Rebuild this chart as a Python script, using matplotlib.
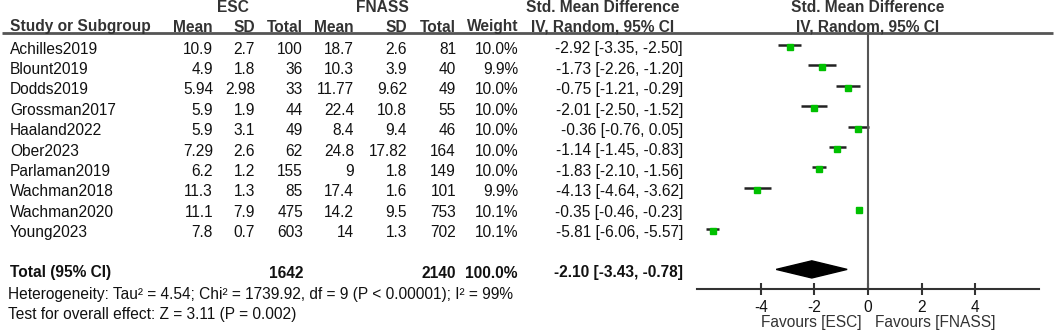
import numpy as np
import matplotlib.pyplot as plt

# study data
studies = ["Achilles2019", "Blount2019", "Dodds2019", "Grossman2017", "Haaland2022",
           "Ober2023", "Parlaman2019", "Wachman2018", "Wachman2020", "Young2023"]
esc_mean = ["10.9", "4.9", "5.94", "5.9", "5.9", "7.29", "6.2", "11.3", "11.1", "7.8"]
esc_sd = ["2.7", "1.8", "2.98", "1.9", "3.1", "2.6", "1.2", "1.3", "7.9", "0.7"]
esc_n = [100, 36, 33, 44, 49, 62, 155, 85, 475, 603]
fn_mean = ["18.7", "10.3", "11.77", "22.4", "8.4", "24.8", "9", "17.4", "14.2", "14"]
fn_sd = ["2.6", "3.9", "9.62", "10.8", "9.4", "17.82", "1.8", "1.6", "9.5", "1.3"]
fn_n = [81, 40, 49, 55, 46, 164, 149, 101, 753, 702]
weight = ["10.0%", "9.9%", "10.0%", "10.0%", "10.0%", "10.0%", "10.0%", "9.9%", "10.1%", "10.1%"]
smd = np.array([-2.92, -1.73, -0.75, -2.01, -0.36, -1.14, -1.83, -4.13, -0.35, -5.81])
ci_lo = np.array([-3.35, -2.26, -1.21, -2.50, -0.76, -1.45, -2.10, -4.64, -0.46, -6.06])
ci_hi = np.array([-2.50, -1.20, -0.29, -1.52, 0.05, -0.83, -1.56, -3.62, -0.23, -5.57])

total_smd, total_lo, total_hi = -2.10, -3.43, -0.78
total_esc, total_fn = 1642, 2140
heterogeneity = "Heterogeneity: Tau² = 4.54; Chi² = 1739.92, df = 9 (P < 0.00001); I² = 99%"
overall = "Test for overall effect: Z = 3.11 (P = 0.002)"
ticks = [-4, -2, 0, 2, 4]

plt.rcParams['font.family'] = ['Liberation Sans', 'DejaVu Sans']
W, H = 1056, 336
fig = plt.figure(figsize=(W / 100, H / 100), dpi=100)

# table axes in pixel coordinates
tab = fig.add_axes([0, 0, 1, 1])
tab.set_xlim(0, W)
tab.set_ylim(H, 0)
tab.axis('off')

fs = 11.2
txt = '#111111'
hdr = '#333333'

# header
tab.text(233, 8, "ESC", ha='center', va='center', fontsize=fs, fontweight='bold', color=hdr)
tab.text(382, 8, "FNASS", ha='center', va='center', fontsize=fs, fontweight='bold', color=hdr)
tab.text(603, 8, "Std. Mean Difference", ha='center', va='center', fontsize=fs, fontweight='bold', color=hdr)
tab.text(868, 8, "Std. Mean Difference", ha='center', va='center', fontsize=fs, fontweight='bold', color=hdr)
tab.text(868, 27, "IV, Random, 95% CI", ha='center', va='center', fontsize=fs, fontweight='bold', color=hdr)
tab.text(603, 27, "IV, Random, 95% CI", ha='center', va='center', fontsize=fs, fontweight='bold', color=hdr)
tab.text(10, 27, "Study or Subgroup", ha='left', va='center', fontsize=fs, fontweight='bold', color=hdr)
col_x = [213, 255, 303, 354, 407, 456, 518]
col_names = ["Mean", "SD", "Total", "Mean", "SD", "Total", "Weight"]
for x, name in zip(col_x, col_names):
    tab.text(x, 27, name, ha='right', va='center', fontsize=fs, fontweight='bold', color=hdr)
tab.plot([2, 1053], [33, 33], color='#555555', lw=2, solid_capstyle='butt')

# rows
for i, s in enumerate(studies):
    y = 49 + 20.4 * i
    ci_txt = f"{smd[i]:.2f} [{ci_lo[i]:.2f}, {ci_hi[i]:.2f}]"
    vals = [esc_mean[i], esc_sd[i], str(esc_n[i]), fn_mean[i], fn_sd[i], str(fn_n[i]), weight[i]]
    tab.text(10, y, s, ha='left', va='center', fontsize=fs, color=txt)
    for x, v in zip(col_x, vals):
        tab.text(x, y, v, ha='right', va='center', fontsize=fs, color=txt)
    tab.text(683, y, ci_txt, ha='right', va='center', fontsize=fs, color=txt)

# total row
yt = 273
tab.text(10, yt, "Total (95% CI)", ha='left', va='center', fontsize=fs, fontweight='bold', color=txt)
tab.text(303, yt, str(total_esc), ha='right', va='center', fontsize=fs, fontweight='bold', color=txt)
tab.text(456, yt, str(total_fn), ha='right', va='center', fontsize=fs, fontweight='bold', color=txt)
tab.text(518, yt, "100.0%", ha='right', va='center', fontsize=fs, fontweight='bold', color=txt)
tab.text(683, yt, f"{total_smd:.2f} [{total_lo:.2f}, {total_hi:.2f}]", ha='right', va='center',
         fontsize=fs, fontweight='bold', color=txt)
tab.text(8, 295, heterogeneity, ha='left', va='center', fontsize=fs, color=txt)
tab.text(8, 315, overall, ha='left', va='center', fontsize=fs, color=txt)

# forest axes
x0, x1 = 697, 1039
y_top, y_bot = 33, 289
ax = fig.add_axes([x0 / W, 1 - y_bot / H, (x1 - x0) / W, (y_bot - y_top) / H])
ax.patch.set_alpha(0)
ax.set_xlim(-6.39, 6.39)
row0, step = 45, 20.4
ax.set_ylim((y_bot - row0) / step, (y_top - row0) / step)
rows = np.arange(len(studies))
ax.hlines(rows, ci_lo, ci_hi, color='#222222', lw=1.8)
ax.plot(smd, rows + 0.1, 's', color='#00c000', ms=5, mec='#00c000')
ax.axvline(0, color='#555555', lw=1.5)
d_y = len(studies) + 1
ax.fill([total_lo, total_smd, total_hi, total_smd], [d_y, d_y - 0.42, d_y, d_y + 0.42], color='black')

for sp in ['top', 'right', 'left']:
    ax.spines[sp].set_visible(False)
ax.spines['bottom'].set_color('#333333')
ax.spines['bottom'].set_linewidth(1.5)
ax.set_yticks([])
ax.set_xticks(ticks)
ax.set_xticklabels([str(t) for t in ticks])
ax.tick_params(axis='x', direction='inout', length=8, width=1.5, color='#333333',
               labelsize=fs, labelcolor=txt, pad=4)

tab.text(862, 323, "Favours [ESC]", ha='right', va='center', fontsize=fs, color='#333333')
tab.text(875, 323, "Favours [FNASS]", ha='left', va='center', fontsize=fs, color='#333333')

fig.savefig("out.png", dpi=100)
